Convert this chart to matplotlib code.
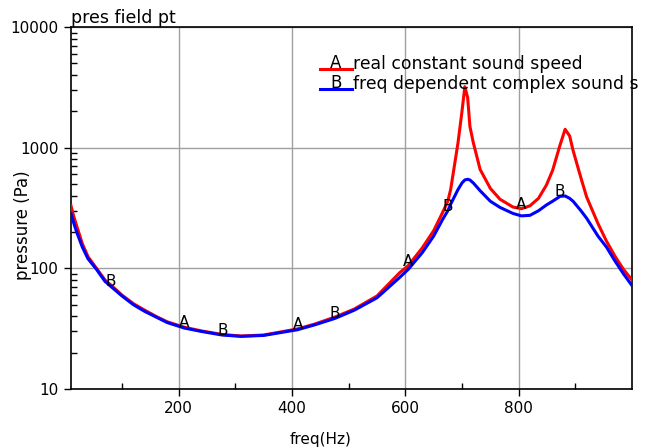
import numpy as np
import matplotlib
matplotlib.use("Agg")
import matplotlib.pyplot as plt
from matplotlib.ticker import FixedLocator, NullFormatter

# frequency grid (Hz)
freq = [10, 15, 20, 30, 40, 55, 70, 80, 100, 120, 140, 160, 180, 210, 240, 277,
        310, 350, 410, 440, 476, 510, 550, 590, 605, 630, 650, 666, 675, 680,
        693, 700, 705, 710, 714, 720, 732, 750, 767, 790, 805, 820, 835, 849,
        860, 873, 882, 890, 896, 910, 920, 940, 955, 970, 985, 1000]

# A: real constant sound speed
p_real = [330, 268, 225, 160, 125, 100, 80, 73, 60, 51, 45, 40, 36, 32.5, 30.3, 28.3,
          27.5, 28, 31.5, 34.5, 39.5, 46, 59, 92, 105, 148, 205, 292, 360, 450,
          1100, 2000, 3200, 2600, 1500, 1100, 660, 460, 374, 322, 312, 330, 380, 490,
          650, 1050, 1420, 1250, 950, 560, 390, 235, 168, 126, 98, 80]

# B: freq dependent complex sound speed
p_cplx = [285, 236, 200, 150, 120, 98, 78, 71, 59, 50, 44, 39.5, 35.5, 32, 30, 28,
          27.3, 27.8, 31, 34, 38.5, 45, 57, 84, 98, 135, 185, 255, 300, 340,
          450, 510, 540, 547, 540, 510, 440, 360, 320, 285, 272, 275, 300, 335,
          360, 395, 398, 380, 360, 300, 260, 185, 150, 115, 90, 72]

# marker label positions (Hz)
marks_a = [210, 410, 605, 805]
marks_b = [80, 277, 476, 675, 873]

fig = plt.figure(figsize=(6.46, 4.48), dpi=100)
ax = fig.add_axes([0.1099, 0.1317, 0.8684, 0.808])

ax.plot(freq, p_real, color="red", lw=2.2, zorder=3)
ax.plot(freq, p_cplx, color="blue", lw=2.2, zorder=3)

for f in marks_a:
    i = freq.index(f)
    ax.text(f, p_real[i], "A", ha="center", va="baseline", fontsize=11, zorder=4)
for f in marks_b:
    i = freq.index(f)
    ax.text(f, p_cplx[i], "B", ha="center", va="baseline", fontsize=11, zorder=4)

ax.set_yscale("log")
ax.set_xlim(10, 1000)
ax.set_ylim(10, 10000)

ax.xaxis.set_major_locator(FixedLocator([200, 400, 600, 800]))
ax.xaxis.set_minor_locator(FixedLocator([100, 300, 500, 700, 900]))
ax.yaxis.set_major_locator(FixedLocator([10, 100, 1000, 10000]))
ax.yaxis.set_major_formatter(matplotlib.ticker.FuncFormatter(lambda v, p: "%d" % v))
ax.yaxis.set_minor_locator(matplotlib.ticker.LogLocator(subs=np.arange(2, 10)))
ax.yaxis.set_minor_formatter(NullFormatter())

ax.tick_params(which="major", direction="out", length=5, width=1, labelsize=11, pad=4)
ax.tick_params(which="minor", direction="in", length=4, width=1)
ax.grid(True, which="major", color="#a0a0a0", lw=1)

for s in ax.spines.values():
    s.set_linewidth(1.2)

ax.set_xlabel("freq(Hz)", fontsize=11)
ax.xaxis.set_label_coords(0.444, -0.118)
ax.set_ylabel("pressure (Pa)", fontsize=12)
ax.yaxis.set_label_coords(-0.069, 0.453)
ax.set_title("pres field pt", loc="left", fontsize=12.5, pad=2)

# legend drawn by hand (the second label runs past the frame)
ax.plot([0.443, 0.501], [0.884, 0.884], transform=ax.transAxes, color="red", lw=2.2, clip_on=False)
ax.plot([0.443, 0.501], [0.829, 0.829], transform=ax.transAxes, color="blue", lw=2.2, clip_on=False)
ax.text(0.472, 0.886, "A", transform=ax.transAxes, ha="center", va="baseline", fontsize=12)
ax.text(0.472, 0.831, "B", transform=ax.transAxes, ha="center", va="baseline", fontsize=12)
ax.text(0.502, 0.898, "real constant sound speed", transform=ax.transAxes,
        va="center", fontsize=12.4)
ax.text(0.502, 0.842, "freq dependent complex sound s", transform=ax.transAxes,
        va="center", fontsize=12.4, clip_on=False)

fig.savefig("out.png", dpi=100)
